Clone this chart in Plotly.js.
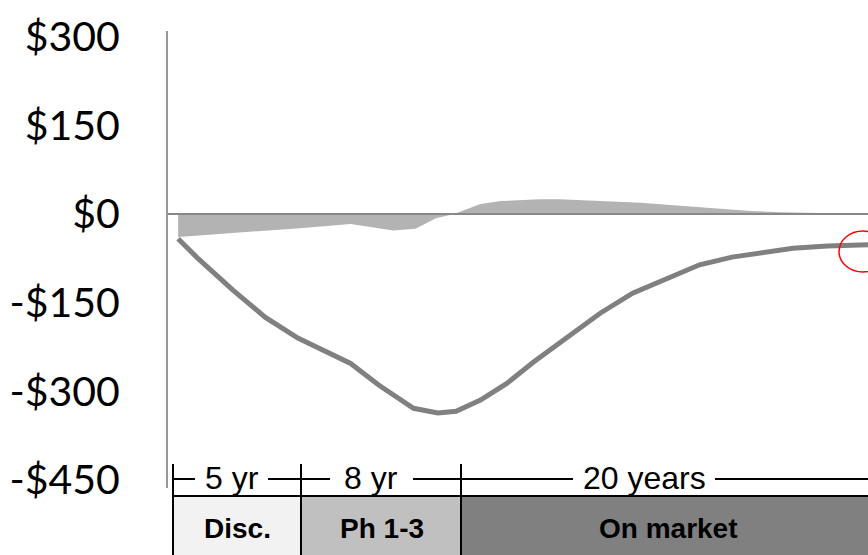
<!DOCTYPE html>
<html>
<head>
<meta charset="utf-8">
<script src="https://cdn.plot.ly/plotly-3.0.1.min.js"></script>
<style>html,body{margin:0;padding:0;background:#fff;}#chart{width:868px;height:555px;}</style>
</head>
<body>
<div id="chart"></div>
<script>
// Cumulative cash position (line), years from start
const lineYears = [0.5, 1.5, 3.2, 4.8, 6.4, 8.6, 9.0, 10.4, 12.1, 13.3, 14.2, 15.4, 16.7, 18.0, 19.7, 21.3, 22.9, 24.6, 26.2, 27.8, 29.2, 30.8, 32.5, 34.5];
const lineValues = [-42, -76, -129, -175, -210, -248, -253, -290, -329, -337, -334, -315, -287, -251, -207, -168, -134, -109, -86, -73, -66, -58, -54, -52];
// Annual cash flow (area)
const areaYears = [0.5, 1.2, 6.5, 9.0, 11.1, 12.2, 13.2, 14.1, 15.4, 16.4, 18.3, 19.3, 23.3, 26.2, 28.7, 30.2, 31.6, 34.5];
const areaValues = [-39, -37, -24, -17, -28, -25, -7, 0, 17, 22, 25, 25, 19, 12, 5, 3, 2, 0];
// Axis ticks
const tickValues = [300, 150, 0, -150, -300, -450];
const tickLabels = ["$300", "$150", "$0", "-$150", "-$300", "-$450"];
// Phases
const phaseNames = ["Disc.", "Ph 1-3", "On market"];
const phaseDurations = ["5 yr", "8 yr", "20 years"];
const phaseColors = ["#f2f2f2", "#c0c0c0", "#808080"];

const W = 700, L = 168, T = 31, H = 457;
const px = v => (v - L) / W;
const py = v => (T + H - v) / H;

const bounds = [173, 301, 461, 900];
const shapes = [];
for (let i = 0; i < 3; i++) {
  shapes.push({type: 'rect', xref: 'paper', yref: 'paper', x0: px(bounds[i]), x1: px(bounds[i+1]), y0: py(600), y1: py(496), fillcolor: phaseColors[i], line: {width: 0}, layer: 'above'});
}
shapes.push({type: 'line', xref: 'paper', yref: 'paper', x0: px(173), x1: px(900), y0: py(496), y1: py(496), line: {color: '#000', width: 2}, layer: 'above'});
// bracket line segments, broken around the duration labels
const segs = [[173, 195], [268, 330], [413, 573], [715, 900]];
segs.forEach(s => shapes.push({type: 'line', xref: 'paper', yref: 'paper', x0: px(s[0]), x1: px(s[1]), y0: py(479), y1: py(479), line: {color: '#000', width: 2}, layer: 'above'}));
for (let i = 0; i < 3; i++) {
  shapes.push({type: 'line', xref: 'paper', yref: 'paper', x0: px(bounds[i]), x1: px(bounds[i]), y0: py(464), y1: py(600), line: {color: '#000', width: 2}, layer: 'above'});
}
shapes.push({type: 'line', xref: 'paper', yref: 'y', x0: 0, x1: 1, y0: 0, y1: 0, line: {color: '#888888', width: 2}, layer: 'above'});
shapes.push({type: 'circle', xref: 'paper', yref: 'paper', x0: px(839), x1: px(887), y0: py(272), y1: py(231), line: {color: '#ff0000', width: 1.5}, layer: 'above'});

const durCenters = [232, 371, 644];
const nameCenters = [237, 382, 668];
const annotations = [];
for (let i = 0; i < 3; i++) {
  annotations.push({xref: 'paper', yref: 'paper', x: px(durCenters[i]), y: py(478), text: phaseDurations[i], showarrow: false, xanchor: 'center', yanchor: 'middle', font: {family: 'Liberation Sans, Arial', size: 32, color: '#000'}});
  annotations.push({xref: 'paper', yref: 'paper', x: px(nameCenters[i]), y: py(528), text: '<b>' + phaseNames[i] + '</b>', showarrow: false, xanchor: 'center', yanchor: 'middle', font: {family: 'Liberation Sans, Arial', size: 28, color: '#000'}});
}

const data = [
  {x: areaYears, y: areaValues, type: 'scatter', mode: 'lines', fill: 'tozeroy', fillcolor: '#b3b3b3', line: {width: 0, color: '#b3b3b3'}, hoverinfo: 'skip'},
  {x: lineYears, y: lineValues, type: 'scatter', mode: 'lines', line: {color: '#808080', width: 5}}
];

const layout = {
  width: 868, height: 555,
  margin: {l: L, r: 0, t: T, b: 555 - T - H, pad: 0},
  paper_bgcolor: '#fff', plot_bgcolor: '#fff',
  showlegend: false,
  xaxis: {range: [0, 34.5], visible: false, fixedrange: true},
  yaxis: {range: [-464, 310], tickvals: tickValues, ticktext: tickLabels, showgrid: false, zeroline: false,
          showline: true, linecolor: '#999999', linewidth: 2, ticks: '', ticklabelstandoff: 38,
          tickfont: {family: 'Lato, Noto Sans, sans-serif', size: 41, color: '#000'}},
  shapes: shapes,
  annotations: annotations
};
Plotly.newPlot('chart', data, layout, {displayModeBar: false, staticPlot: true});
</script>
</body>
</html>
